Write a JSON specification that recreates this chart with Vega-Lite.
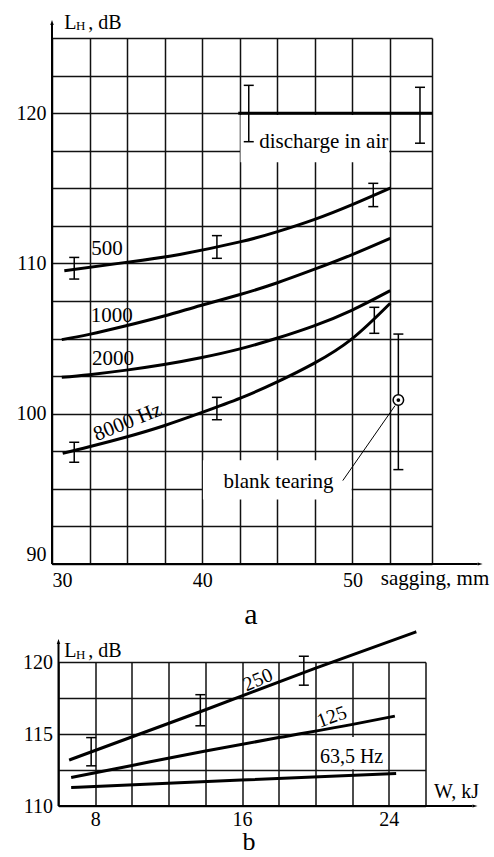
{
  "$schema": "https://vega.github.io/schema/vega-lite/v6.json",
  "padding": {"left": 16, "top": 12, "right": 0, "bottom": 0},
  "bounds": "flush",
  "center": true,
  "spacing": 98,
  "config": {
    "view": {"stroke": null},
    "axis": {"grid": true, "gridColor": "#111", "gridWidth": 1.5, "gridOpacity": 1, "ticks": false, "domain": false, "labelFont": "Liberation Serif", "labelFontSize": 20, "labelColor": "#000", "labelOverlap": false, "title": null},
    "text": {"font": "Liberation Serif", "color": "#000"}
  },
  "vconcat": [
    {
      "width": 380,
      "height": 526,
      "encoding": {
        "x": {"field": "x", "type": "quantitative", "scale": {"domain": [30, 55.3], "nice": false, "zero": false},
              "axis": {"values": [30, 32.5, 35, 37.5, 40, 42.5, 45, 47.5, 50, 52.5, 55.3], "labelExpr": "datum.value == 30 || datum.value == 40 || datum.value == 50 ? datum.label : ''", "labelFlush": true, "labelPadding": 6}},
        "y": {"field": "y", "type": "quantitative", "scale": {"domain": [90, 125], "nice": false, "zero": false},
              "axis": {"values": [90, 92.5, 95, 97.5, 100, 102.5, 105, 107.5, 110, 112.5, 115, 117.5, 120, 122.5, 125], "labelExpr": "datum.value % 10 == 0 ? datum.label : ''", "labelFlush": true, "labelPadding": 6}}
      },
      "layer": [
        {
          "data": {"values": [{"x": 42.55, "x2": 52.45, "y": 116.74, "y2": 119.87}, {"x": 40.05, "x2": 49.95, "y": 94.3, "y2": 96.9}]},
          "mark": {"type": "rect", "fill": "white"},
          "encoding": {"x2": {"field": "x2"}, "y2": {"field": "y2"}}
        },
        {
          "data": {"values": [
            {"s": "500", "x": 30.82, "y": 109.52}, {"s": "500", "x": 34.93, "y": 110.07}, {"s": "500", "x": 38.5, "y": 110.6}, {"s": "500", "x": 42.58, "y": 111.45}, {"s": "500", "x": 44.96, "y": 112.1}, {"s": "500", "x": 47.44, "y": 112.92}, {"s": "500", "x": 49.99, "y": 113.92}, {"s": "500", "x": 52.52, "y": 115.02},
            {"s": "1000", "x": 30.65, "y": 104.93}, {"s": "1000", "x": 32.48, "y": 105.28}, {"s": "1000", "x": 34.93, "y": 105.85}, {"s": "1000", "x": 37.46, "y": 106.5}, {"s": "1000", "x": 39.9, "y": 107.2}, {"s": "1000", "x": 42.58, "y": 107.95}, {"s": "1000", "x": 44.96, "y": 108.7}, {"s": "1000", "x": 47.44, "y": 109.6}, {"s": "1000", "x": 49.99, "y": 110.59}, {"s": "1000", "x": 52.52, "y": 111.67},
            {"s": "2000", "x": 30.65, "y": 102.42}, {"s": "2000", "x": 32.48, "y": 102.6}, {"s": "2000", "x": 34.95, "y": 102.9}, {"s": "2000", "x": 37.46, "y": 103.27}, {"s": "2000", "x": 39.9, "y": 103.72}, {"s": "2000", "x": 42.58, "y": 104.33}, {"s": "2000", "x": 44.96, "y": 105.02}, {"s": "2000", "x": 47.44, "y": 105.85}, {"s": "2000", "x": 49.99, "y": 106.9}, {"s": "2000", "x": 52.52, "y": 108.19},
            {"s": "8000", "x": 30.71, "y": 97.37}, {"s": "8000", "x": 32.48, "y": 97.8}, {"s": "8000", "x": 34.95, "y": 98.45}, {"s": "8000", "x": 37.46, "y": 99.2}, {"s": "8000", "x": 39.9, "y": 100.05}, {"s": "8000", "x": 42.58, "y": 101.05}, {"s": "8000", "x": 44.96, "y": 102.1}, {"s": "8000", "x": 47.44, "y": 103.35}, {"s": "8000", "x": 49.99, "y": 105.0}, {"s": "8000", "x": 52.52, "y": 107.35},
            {"s": "air", "x": 42.4, "y": 120}, {"s": "air", "x": 55.3, "y": 120}
          ]},
          "mark": {"type": "line", "interpolate": "natural", "stroke": "#000", "strokeWidth": 3},
          "encoding": {"detail": {"field": "s", "type": "nominal"}}
        },
        {
          "data": {"values": [{"x": 30, "x2": 30, "y": 90, "y2": 125.86}, {"x": 30, "x2": 58.34, "y": 90, "y2": 90}]},
          "mark": {"type": "rule", "stroke": "#000", "strokeWidth": 2},
          "encoding": {"x2": {"field": "x2"}, "y2": {"field": "y2"}}
        },
        {
          "data": {"values": [{"x": 30, "y": 125.86}]},
          "mark": {"type": "point", "shape": "M0,-1L-0.35,0L0.35,0Z", "size": 100, "filled": true, "color": "#000", "opacity": 1},
          "encoding": {}
        },
        {
          "data": {"values": [{"x": 58.34, "y": 90}]},
          "mark": {"type": "point", "shape": "M1,0L0,-0.32L0,0.32Z", "size": 100, "filled": true, "color": "#000", "opacity": 1},
          "encoding": {}
        },
        {
          "data": {"values": [
            {"x": 31.48, "y": 108.96, "y2": 110.4}, {"x": 31.48, "y": 96.77, "y2": 98.1},
            {"x": 40.98, "y": 110.34, "y2": 111.85}, {"x": 40.98, "y": 99.6, "y2": 101.09},
            {"x": 43.1, "y": 118.1, "y2": 121.85}, {"x": 54.5, "y": 118.0, "y2": 121.72},
            {"x": 51.39, "y": 113.78, "y2": 115.33}, {"x": 51.46, "y": 105.35, "y2": 107.08},
            {"x": 53.06, "y": 96.28, "y2": 105.3}
          ]},
          "layer": [
            {"mark": {"type": "rule", "stroke": "#000", "strokeWidth": 1.5}, "encoding": {"y2": {"field": "y2"}}},
            {"mark": {"type": "tick", "orient": "horizontal", "size": 10, "thickness": 1.5, "color": "#000", "opacity": 1}, "encoding": {}},
            {"mark": {"type": "tick", "orient": "horizontal", "size": 10, "thickness": 1.5, "color": "#000", "opacity": 1}, "encoding": {"y": {"field": "y2", "type": "quantitative"}}}
          ]
        },
        {
          "data": {"values": [{"x": 49.36, "x2": 52.84, "y": 95.55, "y2": 100.54}]},
          "mark": {"type": "rule", "stroke": "#000", "strokeWidth": 1},
          "encoding": {"x2": {"field": "x2"}, "y2": {"field": "y2"}}
        },
        {
          "data": {"values": [{"x": 53.06, "y": 100.91}]},
          "layer": [
            {"mark": {"type": "point", "shape": "circle", "size": 110, "stroke": "#000", "strokeWidth": 1.5, "fill": "white", "filled": false, "opacity": 1, "fillOpacity": 1}, "encoding": {}},
            {"mark": {"type": "point", "shape": "circle", "size": 14, "filled": true, "color": "#000", "opacity": 1}, "encoding": {}}
          ]
        },
        {
          "data": {"values": [
            {"x": 33.66, "y": 110.94, "t": "500"},
            {"x": 33.97, "y": 106.53, "t": "1000"},
            {"x": 34.06, "y": 103.64, "t": "2000"},
            {"x": 48.09, "y": 118.06, "t": "discharge in air"},
            {"x": 45.08, "y": 95.44, "t": "blank  tearing"},
            {"x": 55.5, "y": 89.0, "t": "sagging, mm"}
          ]},
          "mark": {"type": "text", "fontSize": 21, "align": "center", "baseline": "middle"},
          "encoding": {"text": {"field": "t"}}
        },
        {
          "data": {"values": [{"x": 35.04, "y": 99.43, "t": "8000 Hz"}]},
          "mark": {"type": "text", "fontSize": 21, "align": "center", "baseline": "middle", "angle": 338},
          "encoding": {"text": {"field": "t"}}
        },
        {
          "data": {"values": [{"x": 43.25, "y": 86.59, "t": "a"}]},
          "mark": {"type": "text", "fontSize": 30, "align": "center", "baseline": "middle"},
          "encoding": {"text": {"field": "t"}}
        },
        {
          "data": {"values": [{"x": 30.82, "y": 125.62, "t": "L"}, {"x": 32.42, "y": 125.62, "t": ", dB"}]},
          "mark": {"type": "text", "fontSize": 20, "align": "left", "baseline": "alphabetic"},
          "encoding": {"text": {"field": "t"}}
        },
        {
          "data": {"values": [{"x": 31.6, "y": 125.51, "t": "H"}]},
          "mark": {"type": "text", "fontSize": 13, "align": "left", "baseline": "alphabetic"},
          "encoding": {"text": {"field": "t"}}
        }
      ]
    },
    {
      "width": 367,
      "height": 144,
      "encoding": {
        "x": {"field": "x", "type": "quantitative", "scale": {"domain": [6, 26], "nice": false, "zero": false},
              "axis": {"values": [6, 8, 10, 12, 14, 16, 18, 20, 22, 24, 26], "labelExpr": "datum.value == 8 || datum.value == 16 || datum.value == 24 ? datum.label : ''", "labelPadding": 3}},
        "y": {"field": "y", "type": "quantitative", "scale": {"domain": [110, 120], "nice": false, "zero": false},
              "axis": {"values": [110, 112.5, 115, 117.5, 120], "labelExpr": "datum.value % 5 == 0 ? datum.label : ''", "labelPadding": 6}}
      },
      "layer": [
        {
          "data": {"values": [{"x": 20.15, "x2": 23.85, "y": 112.55, "y2": 114.8}]},
          "mark": {"type": "rect", "fill": "white"},
          "encoding": {"x2": {"field": "x2"}, "y2": {"field": "y2"}}
        },
        {
          "data": {"values": [
            {"s": "250", "x": 6.58, "y": 113.19}, {"s": "250", "x": 13.94, "y": 116.65}, {"s": "250", "x": 19.94, "y": 119.54}, {"s": "250", "x": 25.5, "y": 122.1},
            {"s": "125", "x": 6.69, "y": 111.98}, {"s": "125", "x": 9.94, "y": 112.8}, {"s": "125", "x": 13.94, "y": 113.8}, {"s": "125", "x": 18.0, "y": 114.75}, {"s": "125", "x": 21.96, "y": 115.65}, {"s": "125", "x": 24.33, "y": 116.24},
            {"s": "63", "x": 6.69, "y": 111.29}, {"s": "63", "x": 15.95, "y": 111.8}, {"s": "63", "x": 24.4, "y": 112.26}
          ]},
          "mark": {"type": "line", "interpolate": "monotone", "stroke": "#000", "strokeWidth": 3},
          "encoding": {"detail": {"field": "s", "type": "nominal"}}
        },
        {
          "data": {"values": [{"x": 6, "x2": 6, "y": 110, "y2": 121.25}, {"x": 6, "x2": 28.56, "y": 110, "y2": 110}]},
          "mark": {"type": "rule", "stroke": "#000", "strokeWidth": 2},
          "encoding": {"x2": {"field": "x2"}, "y2": {"field": "y2"}}
        },
        {
          "data": {"values": [{"x": 6, "y": 121.25}]},
          "mark": {"type": "point", "shape": "M0,-1L-0.35,0L0.35,0Z", "size": 100, "filled": true, "color": "#000", "opacity": 1},
          "encoding": {}
        },
        {
          "data": {"values": [{"x": 28.56, "y": 110}]},
          "mark": {"type": "point", "shape": "M1,0L0,-0.32L0,0.32Z", "size": 100, "filled": true, "color": "#000", "opacity": 1},
          "encoding": {}
        },
        {
          "data": {"values": [
            {"x": 7.78, "y": 112.79, "y2": 114.75}, {"x": 13.73, "y": 115.57, "y2": 117.73}, {"x": 19.37, "y": 118.39, "y2": 120.4}
          ]},
          "layer": [
            {"mark": {"type": "rule", "stroke": "#000", "strokeWidth": 1.5}, "encoding": {"y2": {"field": "y2"}}},
            {"mark": {"type": "tick", "orient": "horizontal", "size": 10, "thickness": 1.5, "color": "#000", "opacity": 1}, "encoding": {}},
            {"mark": {"type": "tick", "orient": "horizontal", "size": 10, "thickness": 1.5, "color": "#000", "opacity": 1}, "encoding": {"y": {"field": "y2", "type": "quantitative"}}}
          ]
        },
        {
          "data": {"values": [{"x": 16.87, "y": 118.75, "t": "250"}]},
          "mark": {"type": "text", "fontSize": 20, "align": "center", "baseline": "middle", "angle": 337},
          "encoding": {"text": {"field": "t"}}
        },
        {
          "data": {"values": [{"x": 20.9, "y": 116.18, "t": "125"}]},
          "mark": {"type": "text", "fontSize": 20, "align": "center", "baseline": "middle", "angle": 340},
          "encoding": {"text": {"field": "t"}}
        },
        {
          "data": {"values": [{"x": 21.97, "y": 113.4, "t": "63,5 Hz"}, {"x": 27.69, "y": 110.97, "t": "W, kJ"}]},
          "mark": {"type": "text", "fontSize": 20, "align": "center", "baseline": "middle"},
          "encoding": {"text": {"field": "t"}}
        },
        {
          "data": {"values": [{"x": 16.38, "y": 106.95, "t": "b"}]},
          "mark": {"type": "text", "fontSize": 26, "align": "center", "baseline": "alphabetic"},
          "encoding": {"text": {"field": "t"}}
        },
        {
          "data": {"values": [{"x": 6.32, "y": 120.35, "t": "L"}, {"x": 7.62, "y": 120.35, "t": ", dB"}]},
          "mark": {"type": "text", "fontSize": 20, "align": "left", "baseline": "alphabetic"},
          "encoding": {"text": {"field": "t"}}
        },
        {
          "data": {"values": [{"x": 6.95, "y": 120.23, "t": "H"}]},
          "mark": {"type": "text", "fontSize": 13, "align": "left", "baseline": "alphabetic"},
          "encoding": {"text": {"field": "t"}}
        }
      ]
    }
  ]
}
